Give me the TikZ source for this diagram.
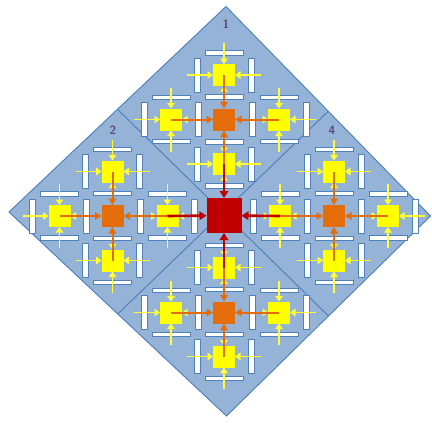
\documentclass[tikz,border=0pt]{standalone}
\usetikzlibrary{arrows.meta,calc}
\pgfdeclarelayer{bg}
\pgfdeclarelayer{barl}
\pgfsetlayers{bg,barl,main}
\definecolor{dfill}{HTML}{95B3D7}
\definecolor{dline}{HTML}{4A7EBB}
\definecolor{barline}{HTML}{4F81BD}
\definecolor{yel}{HTML}{FFFF00}
\definecolor{yarc}{HTML}{FFFF33}
\definecolor{orng}{HTML}{E46C0A}
\definecolor{dred}{HTML}{C00000}
\definecolor{lab}{HTML}{5F497A}
\tikzset{
  hbar/.style={draw=barline,fill=white,line width=1pt,minimum width=38pt,minimum height=4.5pt,inner sep=0pt,outer sep=0pt},
  vbar/.style={draw=barline,fill=white,line width=1pt,minimum width=6pt,minimum height=34pt,inner sep=0pt,outer sep=0pt},
  ysq/.style={fill=yel,minimum size=22pt,inner sep=0pt,outer sep=0pt},
  osq/.style={fill=orng,minimum size=22pt,inner sep=0pt,outer sep=0pt},
  rsq/.style={fill=dred,minimum size=35pt,inner sep=0pt,outer sep=0pt},
  yarr/.style={draw=yarc,line width=1.6pt,-{Triangle[length=5.5pt,width=7.5pt]}},
  oarr/.style={draw=orng,line width=2pt,-{Triangle[length=6.5pt,width=7.5pt]}},
  rarr/.style={draw=dred,line width=2.6pt,-{Triangle[length=7pt,width=8.5pt]}},
  lbl/.style={text=lab,font=\sffamily\bfseries\fontsize{12}{14}\selectfont,inner sep=0pt},
  divline/.style={draw=dline,line width=0.9pt},
  cell/.pic={
    \begin{pgfonlayer}{barl}
      \node[hbar] (-bt) at (0,-22) {};
      \node[hbar] (-bb) at (0,22) {};
      \node[vbar] (-bl) at (-27,0) {};
      \node[vbar] (-br) at (27,0) {};
    \end{pgfonlayer}
    \node[ysq] (-sq) at (0,0) {};
    \coordinate (-at) at (0,-32);
    \coordinate (-ab) at (0,32);
    \coordinate (-al) at (-37,0);
    \coordinate (-ar) at (37,0);
    \draw[yarr] (-at) -- (-sq);
    \draw[yarr] (-ab) -- (-sq);
    \draw[yarr] (-al) -- (-sq);
    \draw[yarr] (-ar) -- (-sq);
  }
}
\begin{document}
\begin{tikzpicture}[x=1pt,y=-1pt]
\useasboundingbox (0,0) rectangle (432,423);
\coordinate (T) at (226,6.5);
\coordinate (L) at (9,212);
\coordinate (R) at (430.5,216);
\coordinate (B) at (226.5,416);
\coordinate (mTL) at ($(T)!0.5!(L)$);
\coordinate (mTR) at ($(T)!0.5!(R)$);
\coordinate (mBL) at ($(B)!0.5!(L)$);
\coordinate (mBR) at ($(B)!0.5!(R)$);
\begin{pgfonlayer}{bg}
  \draw[divline,fill=dfill] (T) -- (R) -- (B) -- (L) -- cycle;
  \draw[divline] (mTL) -- (mBR);
  \draw[divline] (mTR) -- (mBL);
\end{pgfonlayer}
% region 1 (top)
\pic (c1t) at (224,75) {cell};
\pic (c1l) at (171,119.5) {cell};
\pic (c1r) at (279,119.5) {cell};
\pic (c1b) at (224,164) {cell};
% region 2 (left)
\pic (c2t) at (112.5,171.5) {cell};
\pic (c2l) at (59.5,216) {cell};
\pic (c2r) at (167.5,216) {cell};
\pic (c2b) at (112.5,260.5) {cell};
% region 4 (right)
\pic (c4t) at (334,171.5) {cell};
\pic (c4l) at (280,216) {cell};
\pic (c4r) at (388,216) {cell};
\pic (c4b) at (334,260.5) {cell};
% region 3 (bottom)
\pic (c3t) at (224,267.5) {cell};
\pic (c3l) at (171,312.5) {cell};
\pic (c3r) at (279,312.5) {cell};
\pic (c3b) at (224,356.5) {cell};
% orange squares
\node[osq] (o1) at (224,119.5) {};
\node[osq] (o2) at (112.5,216) {};
\node[osq] (o4) at (334,216) {};
\node[osq] (o3) at (224,312.5) {};
\node[rsq] (red) at (224,215.5) {};
% orange arrows
\foreach \r in {1,2,3,4}{
  \foreach \p in {t,l,r,b}{
    \draw[oarr] (c\r\p-sq.center) -- (o\r);
  }
}
% red arrows
\draw[rarr] (c1b-sq.center) -- (red);
\draw[rarr] (c2r-sq.center) -- (red);
\draw[rarr] (c4l-sq.center) -- (red);
\draw[rarr] (c3t-sq.center) -- (red);
% labels
\node[lbl] (n1) at (226,24) {1};
\node[lbl] (n2) at (113,130) {2};
\node[lbl] (n4) at (332,130) {4};
\end{tikzpicture}
\end{document}
